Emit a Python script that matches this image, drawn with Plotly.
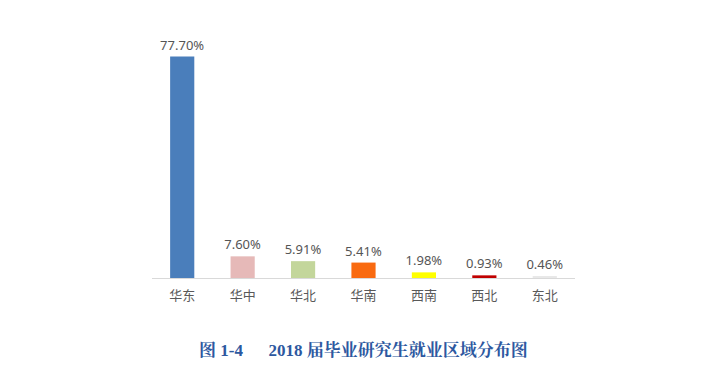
import plotly.graph_objects as go

categories = ["华东", "华中", "华北", "华南", "西南", "西北", "东北"]
values = [77.70, 7.60, 5.91, 5.41, 1.98, 0.93, 0.46]
labels = ["77.70%", "7.60%", "5.91%", "5.41%", "1.98%", "0.93%", "0.46%"]
colors = ["#4A7EBB", "#E6B9B8", "#C3D69B", "#F96A10", "#FFFF00", "#C00000", "#E8E8E8"]
caption = "图 1-4      2018 届毕业研究生就业区域分布图"

fig = go.Figure(go.Bar(
    x=categories, y=values, text=labels, textposition="outside",
    constraintext="none",
    marker=dict(color=colors, line=dict(width=0)),
    textfont=dict(size=13, color="#555555", family="Noto Sans, Noto Sans CJK SC"),
    cliponaxis=False,
))

fig.update_layout(
    width=693, height=370,
    margin=dict(l=144, r=126, t=42, b=100),
    paper_bgcolor="white", plot_bgcolor="white",
    bargap=0.6, showlegend=False,
    xaxis=dict(showline=True, linecolor="#D9D9D9", linewidth=1, ticks="",
               ticklabelstandoff=5,
               tickfont=dict(size=13, color="#595959", family="Noto Sans CJK SC"),
               showgrid=False),
    yaxis=dict(range=[0, 80], visible=False, showgrid=False),
    annotations=[dict(
        text="<b>" + caption + "</b>", xref="paper", yref="paper",
        x=0.5, y=-0.316, xanchor="center", yanchor="middle", showarrow=False,
        font=dict(size=17, color="#2D58A0", family="Liberation Serif, Noto Serif CJK SC, Noto Sans CJK SC"),
    )],
)

fig.write_html("out.html")
